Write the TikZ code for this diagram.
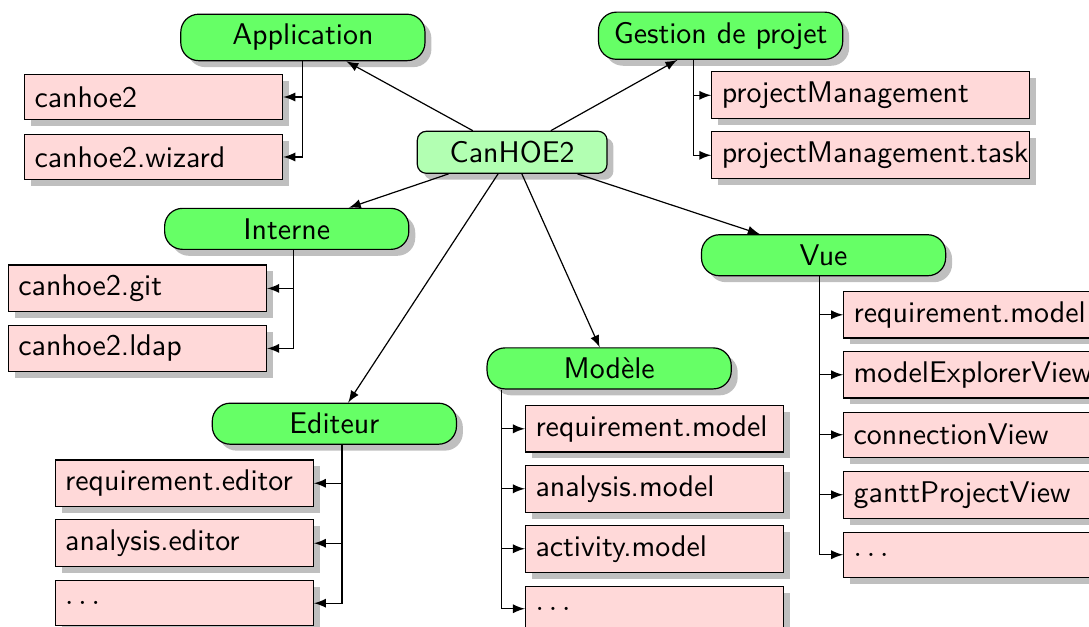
\documentclass[tikz,border=0pt]{standalone}
\usetikzlibrary{shadows}
\hyphenpenalty=10000
\begin{document}
\begin{tikzpicture}[>=latex, font=\sffamily,
    racine/.style={draw, fill=green!30, rounded corners=3pt, minimum width=2.23cm, drop shadow},
    groupe/.style={draw, fill=green!60, rounded corners=6pt, minimum width=2.87cm, drop shadow},
    paquet/.style={draw, fill=red!15, text width=2.8cm, align=left, minimum height=15pt, drop shadow}]
    % 1. 固定画布大小
    \useasboundingbox (0,0) rectangle (12.80,-7.36);

    % 2. 中心节点和六个分组
    \node[racine] (canhoe) at (6.02,-1.79) {CanHOE2};
    \node[groupe] (appli) at (3.56,-0.44) {Application};
    \node[groupe] (gestion) at (8.47,-0.42) {Gestion de projet};
    \node[groupe] (interne) at (3.37,-2.69) {Interne};
    \node[groupe] (vue) at (9.68,-3.00) {Vue};
    \node[groupe] (modele) at (7.16,-4.33) {Modèle};
    \node[groupe] (editeur) at (3.93,-4.98) {Editeur};

    \foreach \g in {appli, gestion, interne, vue, modele, editeur}
        \draw[->] (canhoe) -- (\g);

    % 3. 左边的包：箭头指向右边框
    \foreach \nom [count=\i] in {canhoe2, canhoe2.wizard} {
        \node[paquet, anchor=east] (a\i) at (3.33,-1.14-0.705*\i+0.705) {\nom};
        \draw[->] (appli.south) |- (a\i.east);
    }
    \foreach \nom [count=\i] in {canhoe2.git, canhoe2.ldap} {
        \node[paquet, anchor=east] (i\i) at (3.14,-3.39-0.705*\i+0.705) {\nom};
        \draw[->] ([xshift=0.08cm]interne.south) |- (i\i.east);
    }
    \foreach \nom [count=\i] in {requirement.editor, analysis.editor, $\ldots$} {
        \node[paquet, anchor=east] (e\i) at (3.69,-5.68-0.705*\i+0.705) {\nom};
        \draw[->] ([xshift=0.09cm]editeur.south) |- (e\i.east);
    }

    % 4. 右边的包：箭头指向左边框
    \foreach \nom [count=\i] in {projectManagement, projectManagement.task} {
        \node[paquet, text width=3.5cm, anchor=west] (g\i) at (8.36,-1.12-0.705*\i+0.705) {\nom};
        \draw[->] ([xshift=1.12cm]gestion.south west) |- (g\i.west);
    }
    \foreach \nom [count=\i] in {requirement.model, analysis.model, activity.model, $\ldots$} {
        \node[paquet, anchor=west] (m\i) at (6.17,-5.04-0.705*\i+0.705) {\nom};
        \draw[->] ([xshift=0.18cm]modele.south west) |- (m\i.west);
    }
    \foreach \nom [count=\i] in {requirement.model, modelExplorerView, connectionView, ganttProjectView, $\ldots$} {
        \node[paquet, text width=3.2cm, anchor=west] (v\i) at (9.91,-3.70-0.705*\i+0.705) {\nom};
        \draw[->] ([xshift=-0.05cm]vue.south) |- (v\i.west);
    }
\end{tikzpicture}
\end{document}
